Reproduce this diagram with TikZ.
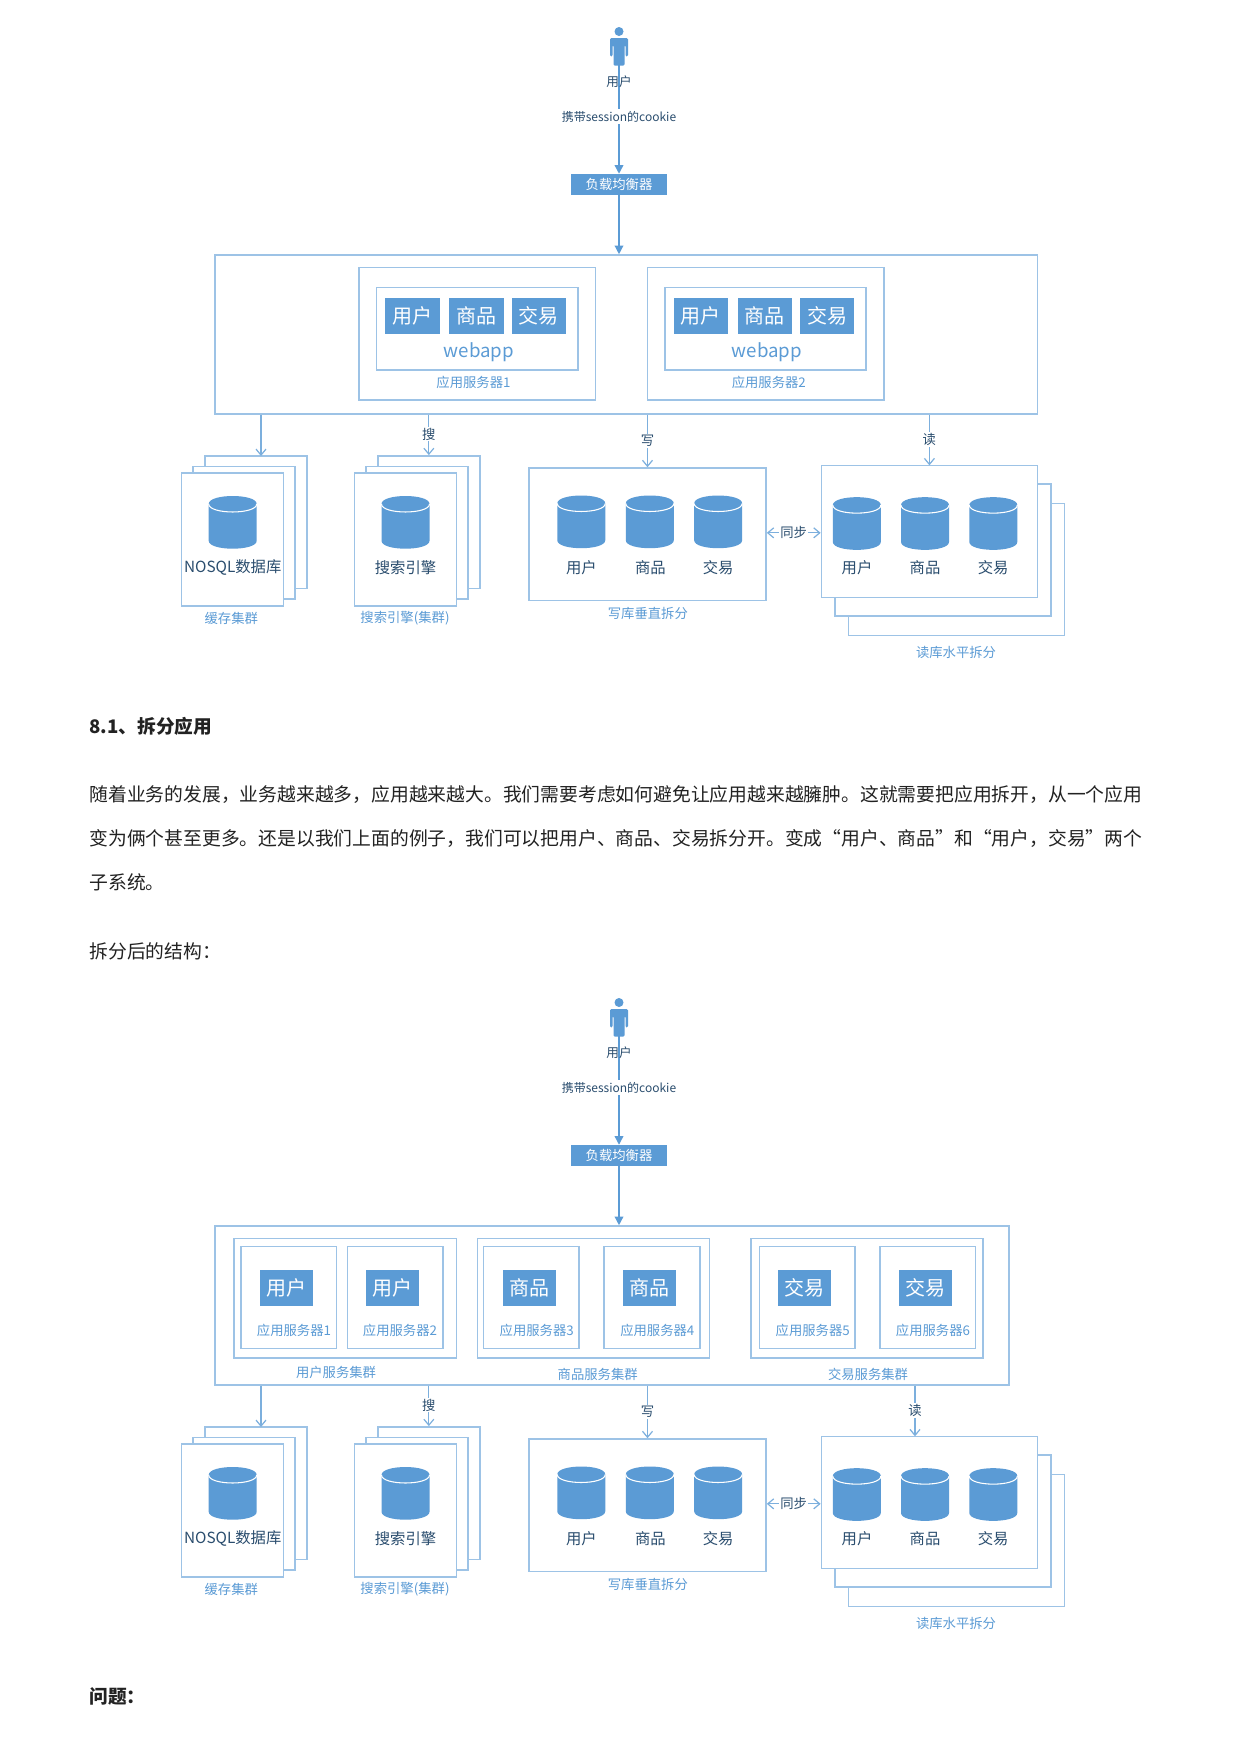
\documentclass[tikz,border=0pt]{standalone}
\usepackage{fontspec}
\setmainfont{Noto Sans CJK SC}
\usetikzlibrary{arrows.meta}
\definecolor{appblue}{HTML}{5B9BD5}
\definecolor{panelline}{HTML}{9DC3E6}
\definecolor{darktext}{HTML}{2A4D6E}
\definecolor{bodytext}{HTML}{222222}
\tikzset{wh/.style 2 args={minimum width=(#1)*0.75pt, minimum height=(#2)*0.75pt}}
\tikzset{drum/.pic={
\fill [appblue] (-24,-18.4) .. controls (-24,-29) and (24,-29) .. (24,-18.4) -- (24,18.4) .. controls (24,29) and (-24,29) .. (-24,18.4) -- cycle;
\draw [white, line width=0.8pt] (-24,-18.4) .. controls (-24,-7.7) and (24,-7.7) .. (24,-18.4);
}}
\tikzstyle{panel} = [rectangle, draw=panelline, line width=1.2pt, fill=white, inner sep=0pt]
\tikzstyle{appbox} = [rectangle, fill=appblue, text=white, font=\fontsize{15}{15}\selectfont, inner sep=0pt]
\tikzstyle{dbtext} = [text=darktext, font=\fontsize{11.5}{11.5}\selectfont, inner sep=0pt]
\tikzstyle{caption} = [text=appblue, font=\fontsize{10}{10}\selectfont, inner sep=0pt]
\tikzstyle{linktext} = [text=darktext, fill=white, font=\fontsize{10}{10}\selectfont, inner sep=1pt]
\tikzstyle{arrow} = [draw=appblue, line width=1pt, -{Triangle[length=6.5pt,width=6.5pt]}]
\tikzstyle{oarrow} = [draw=appblue!80, line width=0.9pt, -{Straight Barb[length=4.5pt,width=7.5pt]}]
\tikzstyle{bodyline} = [anchor=west, text=bodytext, font=\fontsize{14.1}{14.1}\selectfont, inner sep=0pt]
% parts found in both diagrams: right edge of the frame, x of the read arrow
\newcommand{\sharedparts}[2]{
\fill [appblue] (619,31.5) circle (4.5);
\fill [appblue, rounded corners=1pt] (610,38) -- (628,38) -- (628,56.5) -- (625.5,56.5) -- (625.5,45) -- (624.5,45) -- (624.5,65.7) -- (613.5,65.7) -- (613.5,45) -- (612.5,45) -- (612.5,56.5) -- (610,56.5) -- cycle;
\coordinate (person) at (619,57);
\node (lb) [appbox, wh={96}{21}, font=\fontsize{10}{10}\selectfont] at (619,184.5) {负载均衡器};
\draw [arrow] (person) -- node[fill=white, text=darktext, font=\fontsize{9}{9}\selectfont, inner sep=1.5pt, yshift=-1pt] (session) {携带session的cookie} (lb);
\node (user) [text=darktext, font=\fontsize{9.5}{9.5}\selectfont, inner sep=0pt] at (619,81.5) {用户};
\node (frame) [panel, wh={#1-214.8}{158.7}] at ({(214.8+#1)/2},334.35) {};
\draw [arrow] (lb) -- (lb |- frame.north);
% cache cluster
\node (cache3) [panel, wh={102}{132.5}] at (255.85,522.15) {};
\node (cache2) [panel, wh={102}{132.5}] at (244,532.65) {};
\node (cache1) [panel, wh={102}{132.5}] at (232.5,539.5) {};
\pic (cachedb) at (232.7,522.35) {drum};
\node (cachetext) [dbtext] at (232.7,567.5) {NOSQL数据库};
\node (cachecap) [caption] at (231.3,618) {缓存集群};
\coordinate (cachein) at (261,456);
\draw [oarrow] (cachein |- frame.south) -- (cachein);
% search cluster
\node (search3) [panel, wh={102}{132.5}] at (428.85,522.15) {};
\node (search2) [panel, wh={102}{132.5}] at (417,532.65) {};
\node (search1) [panel, wh={102}{132.5}] at (405.3,539.5) {};
\pic (searchdb) at (405.5,522.35) {drum};
\node (searchtext) [dbtext] at (405.5,567.5) {搜索引擎};
\node (searchcap) [caption] at (405,618.3) {搜索引擎(集群)};
\draw [oarrow] (search3.north |- frame.south) -- node[linktext, pos=0.48] (searchlink) {搜} (search3.north);
% write database
\node (write) [panel, wh={237}{132.3}] at (647.5,534.15) {};
\pic (wdb1) at (581.25,521.85) {drum};
\pic (wdb2) at (649.8,521.85) {drum};
\pic (wdb3) at (718.15,521.85) {drum};
\node (wtext1) [dbtext] at (581.4,567.5) {用户};
\node (wtext2) [dbtext] at (650.4,567.5) {商品};
\node (wtext3) [dbtext] at (718.2,567.5) {交易};
\node (writecap) [caption] at (647.9,613.3) {写库垂直拆分};
\draw [oarrow] (write.north |- frame.south) -- node[linktext, pos=0.5] (writelink) {写} (write.north);
% read database
\node (read3) [panel, wh={216}{132}] at (956.3,569.3) {};
\node (read2) [panel, wh={216}{132}] at (942.85,550.15) {};
\node (read1) [panel, wh={216}{132}] at (929.45,531.3) {};
\pic (rdb1) at (856.8,523.5) {drum};
\pic (rdb2) at (925,523.5) {drum};
\pic (rdb3) at (993.3,523.5) {drum};
\node (rtext1) [dbtext] at (857,567.7) {用户};
\node (rtext2) [dbtext] at (925,567.7) {商品};
\node (rtext3) [dbtext] at (993.2,567.7) {交易};
\node (readcap) [caption] at (956,652.3) {读库水平拆分};
\coordinate (readin) at (#2,465.3);
\draw [oarrow] (readin |- frame.south) -- node[linktext, pos=0.5] (readlink) {读} (readin);
\draw [oarrow, {Straight Barb[length=4.5pt,width=7.5pt]}-{Straight Barb[length=4.5pt,width=7.5pt]}] ([yshift=1pt]write.east) -- node[linktext] (synclink) {同步} ([yshift=1pt]write.east -| read1.west);
}
\begin{document}
\begin{tikzpicture}[x=0.75pt, y=-0.75pt]
\useasboundingbox [fill=white] (0,0) rectangle (1240,1754);

\begin{scope}[name prefix=top-]
\sharedparts{1037.6}{929.4}
\node (srv1) [panel, wh={236.5}{132.4}] at (477.25,333.5) {};
\node (web1) [panel, wh={201.4}{82.7}] at (477.3,328.65) {};
\node (u1) [appbox, wh={54.3}{36.3}] at (412.55,315.85) {用户};
\node (g1) [appbox, wh={54.3}{36.3}] at (476.45,315.85) {商品};
\node (t1) [appbox, wh={54.3}{36.3}] at (538.65,315.85) {交易};
\node (webtext1) [caption, font=\fontsize{14}{14}\selectfont] at (479,351.7) {webapp};
\node (srvcap1) [caption] at (473.5,382.7) {应用服务器1};
\node (srv2) [panel, wh={236.5}{132.4}] at (765.55,333.5) {};
\node (web2) [panel, wh={201.4}{82.7}] at (765.5,328.65) {};
\node (u2) [appbox, wh={54.3}{36.3}] at (700.85,315.85) {用户};
\node (g2) [appbox, wh={54.3}{36.3}] at (764.65,315.85) {商品};
\node (t2) [appbox, wh={54.3}{36.3}] at (827.3,315.85) {交易};
\node (webtext2) [caption, font=\fontsize{14}{14}\selectfont] at (767,351.7) {webapp};
\node (srvcap2) [caption] at (768.8,382.7) {应用服务器2};
\end{scope}

\begin{scope}[name prefix=low-, shift={(0,971)}]
\sharedparts{1009}{915}
\end{scope}

% clusters of the split diagram
\node (ucluster) [panel, wh={222.6}{119.4}] at (345,1298) {};
\node (gcluster) [panel, wh={232}{119.4}] at (593.3,1298) {};
\node (tcluster) [panel, wh={232}{119.4}] at (867,1298) {};
\node (as1) [panel, wh={95.5}{102}] at (288.85,1297.3) {};
\node (as2) [panel, wh={95.5}{102}] at (395.2,1297.3) {};
\node (as3) [panel, wh={95.5}{102}] at (531.35,1297.3) {};
\node (as4) [panel, wh={95.5}{102}] at (652,1297.3) {};
\node (as5) [panel, wh={95.5}{102}] at (807.15,1297.3) {};
\node (as6) [panel, wh={95.5}{102}] at (927.65,1297.3) {};
\node (ab1) [appbox, wh={53.2}{36.3}] at (286.35,1288.15) {用户};
\node (ab2) [appbox, wh={53.2}{36.3}] at (392.8,1288.15) {用户};
\node (ab3) [appbox, wh={53.2}{36.3}] at (529.2,1288.15) {商品};
\node (ab4) [appbox, wh={53.2}{36.3}] at (649.8,1288.15) {商品};
\node (ab5) [appbox, wh={53.2}{36.3}] at (804.65,1288.15) {交易};
\node (ab6) [appbox, wh={53.2}{36.3}] at (925.5,1288.15) {交易};
\node (ac1) [caption] at (294,1330.3) {应用服务器1};
\node (ac2) [caption] at (400,1330.3) {应用服务器2};
\node (ac3) [caption] at (536.7,1330.3) {应用服务器3};
\node (ac4) [caption] at (657.3,1330.3) {应用服务器4};
\node (ac5) [caption] at (812.7,1330.3) {应用服务器5};
\node (ac6) [caption] at (933,1330.3) {应用服务器6};
\node (ucap) [caption] at (336,1372.7) {用户服务集群};
\node (gcap) [caption] at (597.7,1374.3) {商品服务集群};
\node (tcap) [caption] at (868,1374.3) {交易服务集群};

% text of the page
\node (head) [bodyline, font=\fontsize{14}{14}\selectfont\bfseries] at (89.3,726.7) {8.1、拆分应用};
\node (line1) [bodyline] at (89.3,795) {随着业务的发展，业务越来越多，应用越来越大。我们需要考虑如何避免让应用越来越臃肿。这就需要把应用拆开，从一个应用};
\node (line2) [bodyline] at (89.3,838.7) {变为俩个甚至更多。还是以我们上面的例子，我们可以把用户、商品、交易拆分开。变成“用户、商品”和“用户，交易”两个};
\node (line3) [bodyline] at (89.3,882.7) {子系统。};
\node (line4) [bodyline] at (89.3,951.3) {拆分后的结构：};
\node (head2) [bodyline, font=\fontsize{14}{14}\selectfont\bfseries] at (89.3,1696.7) {问题：};
\end{tikzpicture}
\end{document}
